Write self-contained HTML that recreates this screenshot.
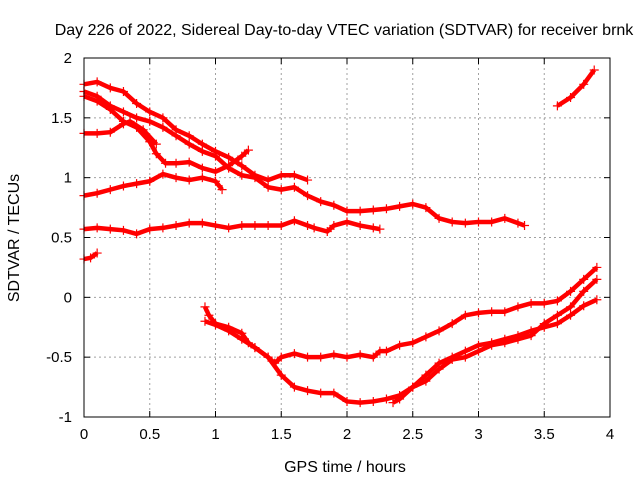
<!DOCTYPE html>
<html><head><meta charset="utf-8"><style>
body{margin:0;background:#fff}
svg{display:block;font-family:"Liberation Sans",sans-serif}
</style></head><body>
<svg id="chart" width="640" height="480">
<rect width="640" height="480" fill="#fff"/>
<text x="344" y="35" font-size="16" text-anchor="middle">Day 226 of 2022, Sidereal Day-to-day VTEC variation (SDTVAR) for receiver brnk</text>
<g id="grid"></g><g id="ticks"></g><g id="series"></g>
<rect x="84" y="58" width="526" height="359" fill="none" stroke="#000"/>
<text x="345" y="472" font-size="16" text-anchor="middle">GPS time / hours</text>
<text transform="translate(19,238) rotate(-90)" font-size="16" text-anchor="middle">SDTVAR / TECUs</text>
</svg>
<script>
const xTicks=[0,0.5,1,1.5,2,2.5,3,3.5,4];
const yTicks=[-1,-0.5,0,0.5,1,1.5,2];
const track1=[[0,1.78],[0.1,1.8],[0.2,1.75],[0.3,1.72],[0.4,1.62],[0.5,1.55],[0.6,1.5],[0.7,1.4],[0.8,1.35],[0.9,1.28],[1.0,1.22],[1.1,1.17],[1.2,1.1],[1.3,1.02],[1.4,0.98],[1.5,1.02],[1.6,1.02],[1.7,0.98]];
const track2=[[0,1.72],[0.1,1.68],[0.2,1.6],[0.3,1.55],[0.4,1.5],[0.5,1.47],[0.6,1.42],[0.7,1.35],[0.8,1.28],[0.9,1.22],[1.0,1.18],[1.1,1.08],[1.2,1.02],[1.3,1.0],[1.4,0.92],[1.5,0.9],[1.6,0.92],[1.7,0.85],[1.8,0.8],[1.9,0.77],[2.0,0.72],[2.1,0.72],[2.2,0.73],[2.3,0.74],[2.4,0.76],[2.5,0.78],[2.6,0.75],[2.7,0.66],[2.8,0.63],[2.9,0.62],[3.0,0.63],[3.1,0.63],[3.2,0.66],[3.3,0.62],[3.35,0.6]];
const track3=[[0,1.68],[0.1,1.64],[0.2,1.57],[0.3,1.47],[0.4,1.42],[0.5,1.3],[0.55,1.2],[0.62,1.12],[0.7,1.12],[0.8,1.13],[0.9,1.08],[1.0,1.05],[1.1,1.1],[1.2,1.18],[1.25,1.23]];
const track4=[[0,1.37],[0.1,1.37],[0.2,1.38],[0.3,1.45],[0.35,1.47],[0.45,1.4],[0.55,1.28]];
const track5=[[0,0.85],[0.1,0.87],[0.2,0.9],[0.3,0.93],[0.4,0.95],[0.5,0.97],[0.6,1.03],[0.7,1.0],[0.8,0.98],[0.9,1.0],[1.0,0.97],[1.05,0.9]];
const track6=[[0,0.57],[0.1,0.58],[0.2,0.57],[0.3,0.56],[0.4,0.53],[0.5,0.57],[0.6,0.58],[0.7,0.6],[0.8,0.62],[0.9,0.62],[1.0,0.6],[1.1,0.58],[1.2,0.6],[1.3,0.6],[1.4,0.6],[1.5,0.6],[1.6,0.64],[1.7,0.6],[1.75,0.58],[1.85,0.55],[1.9,0.6],[2.0,0.63],[2.1,0.6],[2.2,0.58],[2.25,0.57]];
const track7=[[0,0.32],[0.05,0.33],[0.1,0.37]];
const track8=[[3.6,1.6],[3.7,1.67],[3.8,1.78],[3.88,1.9]];
const track9=[[0.92,-0.08],[0.95,-0.15],[1.0,-0.22],[1.1,-0.25],[1.2,-0.3],[1.25,-0.38],[1.3,-0.42],[1.4,-0.5],[1.45,-0.55],[1.5,-0.5],[1.6,-0.47],[1.7,-0.5],[1.8,-0.5],[1.9,-0.48],[2.0,-0.5],[2.1,-0.48],[2.2,-0.5],[2.25,-0.45],[2.3,-0.45],[2.4,-0.4],[2.5,-0.38],[2.6,-0.33],[2.7,-0.28],[2.8,-0.22],[2.9,-0.15],[3.0,-0.13],[3.1,-0.12],[3.2,-0.12],[3.3,-0.08],[3.4,-0.05],[3.5,-0.05],[3.6,-0.03],[3.7,0.05],[3.8,0.15],[3.9,0.25]];
const track10=[[0.92,-0.2],[1.0,-0.23],[1.1,-0.28],[1.2,-0.35],[1.3,-0.42],[1.4,-0.5],[1.5,-0.65],[1.6,-0.75],[1.7,-0.78],[1.8,-0.8],[1.9,-0.8],[2.0,-0.87],[2.1,-0.88],[2.2,-0.87],[2.3,-0.85],[2.4,-0.82],[2.5,-0.75],[2.6,-0.65],[2.7,-0.55],[2.8,-0.5],[2.9,-0.45],[3.0,-0.4],[3.1,-0.38],[3.2,-0.35],[3.3,-0.32],[3.4,-0.28],[3.5,-0.25],[3.6,-0.22],[3.7,-0.15],[3.8,-0.07],[3.9,-0.02]];
const track11=[[2.35,-0.88],[2.4,-0.85],[2.5,-0.75],[2.6,-0.7],[2.7,-0.6],[2.8,-0.52],[2.9,-0.5],[3.0,-0.45],[3.1,-0.4],[3.2,-0.38],[3.3,-0.35],[3.4,-0.32],[3.5,-0.22],[3.6,-0.15],[3.7,-0.08],[3.8,0.05],[3.9,0.15]];
const tracks=[track1,track2,track3,track4,track5,track6,track7,track8,track9,track10,track11];

const NS='http://www.w3.org/2000/svg';
const X0=84,X1=610,Y0=417,Y1=58;
const sx=v=>X0+(v-0)/(4-0)*(X1-X0);
const sy=v=>Y0-(v+1)/(2+1)*(Y0-Y1);
function mk(tag,attrs,parent){const e=document.createElementNS(NS,tag);for(const k in attrs)e.setAttribute(k,attrs[k]);parent.appendChild(e);return e;}
const grid=document.getElementById('grid'),ticks=document.getElementById('ticks'),ser=document.getElementById('series');
xTicks.forEach(t=>{
  const x=sx(t);
  if(t>0&&t<4){const g=mk('line',{x1:x,x2:x,y1:Y1,y2:Y0,stroke:'#a0a0a0','stroke-dasharray':'2,3'},grid);
  
  }
  mk('line',{x1:x,x2:x,y1:Y0,y2:Y0-6,stroke:'#000'},ticks);
  mk('line',{x1:x,x2:x,y1:Y1,y2:Y1+6,stroke:'#000'},ticks);
  const l=mk('text',{x:x,y:Y0+22,'font-size':15,'text-anchor':'middle'},ticks);l.textContent=t;
  
  
});
yTicks.forEach(t=>{
  const y=sy(t);
  if(t>-1&&t<2){const g=mk('line',{x1:X0,x2:X1,y1:y,y2:y,stroke:'#a0a0a0','stroke-dasharray':'2,3'},grid);
  
  }
  mk('line',{x1:X0,x2:X0+6,y1:y,y2:y,stroke:'#000'},ticks);
  mk('line',{x1:X1,x2:X1-6,y1:y,y2:y,stroke:'#000'},ticks);
  const l=mk('text',{x:X0-12,y:y+5,'font-size':15,'text-anchor':'end'},ticks);l.textContent=t;
  
  
});
tracks.forEach((tr,i)=>{
  const p=mk('polyline',{points:tr.map(d=>sx(d[0])+','+sy(d[1])).join(' '),fill:'none',stroke:'#f00','stroke-width':4.5,'stroke-linejoin':'round'},ser);
  
  
  tr.forEach(d=>{
    const x=sx(d[0]),y=sy(d[1]);
    const m=mk('path',{d:`M${x-4.5},${y}H${x+4.5}M${x},${y-4.5}V${y+4.5}`,stroke:'#f00','stroke-width':1.2},ser);
    
    
  });
});
</script>
</body></html>
